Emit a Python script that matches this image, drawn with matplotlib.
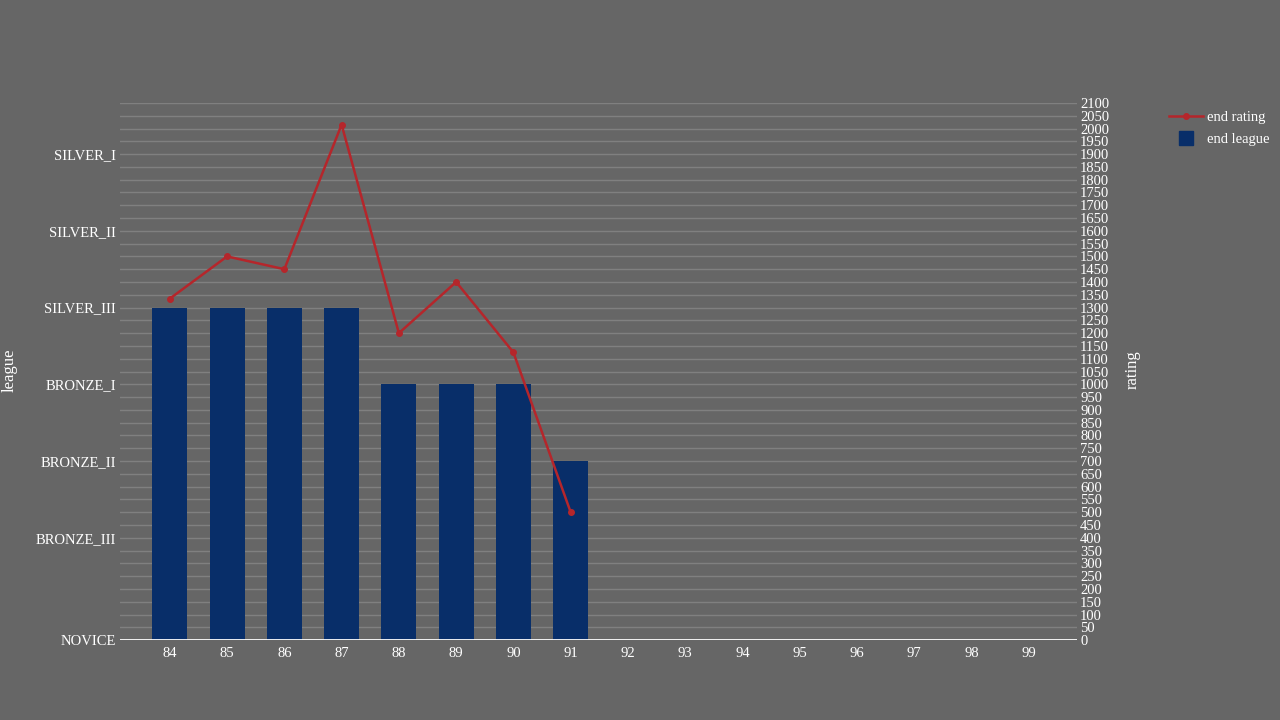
import matplotlib
matplotlib.use("Agg")
import matplotlib.pyplot as plt
from matplotlib.lines import Line2D

plt.rcParams['font.family'] = ['Liberation Serif', 'DejaVu Serif']

seasons = ['84', '85', '86', '87', '88', '89', '90', '91', '92', '93', '94', '95', '96', '97', '98', '99']
end_league = ['SILVER_III', 'SILVER_III', 'SILVER_III', 'SILVER_III', 'BRONZE_I', 'BRONZE_I', 'BRONZE_I', 'BRONZE_II']
end_rating = [1335, 1500, 1450, 2015, 1200, 1400, 1125, 500]

league_names = ['NOVICE', 'BRONZE_III', 'BRONZE_II', 'BRONZE_I', 'SILVER_III', 'SILVER_II', 'SILVER_I']
league_levels = [0, 400, 700, 1000, 1300, 1600, 1900]
rating_ticks = list(range(0, 2101, 50))

bg = '#666666'
bar_color = '#082e69'
line_color = '#b5262b'
grid_color = '#808080'

level_of = dict(zip(league_names, league_levels))
x_all = list(range(len(seasons)))
x_data = x_all[:len(end_league)]

fig = plt.figure(figsize=(12.8, 7.2), dpi=100, facecolor=bg)
ax = fig.add_axes([0.09375, 0.111, 0.748, 0.746])
ax.set_facecolor(bg)

ax.bar(x_data, [level_of[l] for l in end_league], width=0.61, color=bar_color, zorder=3)
ax.set_xlim(-0.87, 15.85)
ax.set_ylim(0, 2100)
ax.set_yticks(league_levels)
ax.set_yticklabels(league_names)
ax.set_xticks(x_all)
ax.set_xticklabels(seasons)
for s in ax.spines.values():
    s.set_visible(False)
ax.tick_params(axis='both', length=0, colors='white', labelsize=10.5)
ax.tick_params(axis='x', pad=5)
ax.tick_params(axis='y', pad=3)
ax.axhline(0, color='white', lw=2, zorder=4)
for t in rating_ticks[1:]:
    ax.axhline(t, color=grid_color, lw=1, zorder=1)
fig.text(10 / 1280, 1 - 370 / 720, 'league', color='white', fontsize=12,
         rotation=90, ha='center', va='center')

ax2 = ax.twinx()
ax2.set_ylim(0, 2100)
ax2.set_yticks(rating_ticks)
for s in ax2.spines.values():
    s.set_visible(False)
ax2.tick_params(axis='y', length=0, colors='white', labelsize=10.5, pad=2)
ax2.plot(x_data, end_rating, color=line_color, lw=1.8, marker='o', ms=4, zorder=5)
fig.text(1133 / 1280, 1 - 370 / 720, 'rating', color='white', fontsize=12,
         rotation=90, ha='center', va='center')

handles = [Line2D([0], [0], color=line_color, lw=1.8, marker='o', ms=4),
           Line2D([0], [0], color=bar_color, lw=0, marker='s', ms=10)]
fig.legend(handles, ['end rating', 'end league'], loc='upper left',
           bbox_to_anchor=(0.909, 0.855 - 1 / 720), frameon=False, labelcolor='white',
           fontsize=10.5, handlelength=2.3, handletextpad=0.3, labelspacing=0.55,
           borderaxespad=0)

fig.savefig('out.png', dpi=100, facecolor=bg)
